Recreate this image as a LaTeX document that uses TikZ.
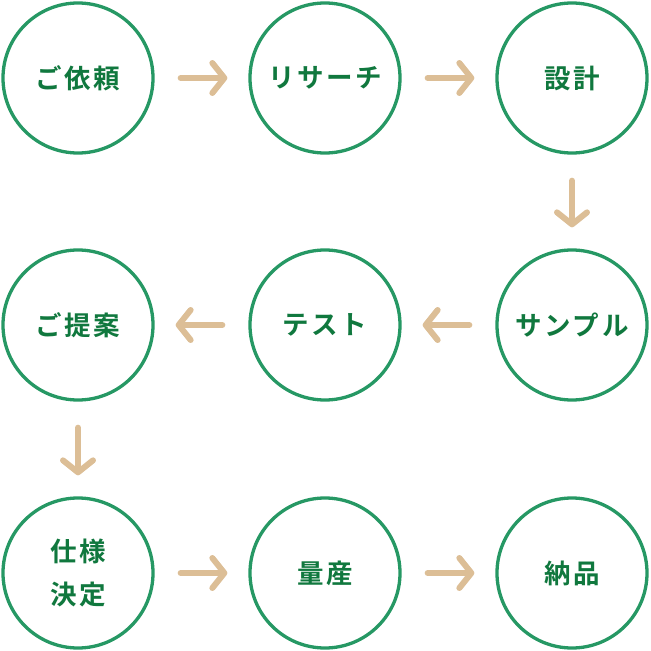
\documentclass[tikz,border=0pt]{standalone}
\usepackage{fontspec}
\setmainfont{Noto Sans CJK JP Bold}
\usepackage{xcolor}
\usetikzlibrary{arrows.meta}

\definecolor{ringgreen}{RGB}{38,152,100}
\definecolor{textgreen}{RGB}{16,120,62}
\definecolor{arrowtan}{RGB}{220,190,150}

\begin{document}
\begin{tikzpicture}[
  x=1pt,y=-1pt,
  every node/.style={font=\fontsize{26.5}{43}\selectfont\addfontfeatures{LetterSpace=10}},
  stage/.style={circle,draw=ringgreen,line width=3.3pt,minimum size=150pt,
                inner sep=0pt,fill=white,text=textgreen,align=center},
  flow/.style={arrowtan,line width=6pt,line cap=round,
               -{Straight Barb[length=12pt,width=30pt,round]},
               shorten <=26pt,shorten >=21pt}]

  \useasboundingbox (0,0) rectangle (651,651);

  % --- top row, left to right
  \node[stage] (order)    at ( 78, 78) {ご依頼};
  \node[stage] (research) at (325, 78) {リサーチ};
  \node[stage] (design)   at (572, 78) {設計};

  % --- middle row, right to left
  \node[stage] (sample)   at (572,325) {サンプル};
  \node[stage] (test)     at (325,325) {テスト};
  \node[stage] (proposal) at ( 78,325) {ご提案};

  % --- bottom row, left to right again
  \node[stage] (spec)     at ( 78,573) {仕様\\決定};
  \node[stage] (mass)     at (325,573) {量産};
  \node[stage] (delivery) at (572,573) {納品};

  % --- flow arrows
  \draw[flow] (order)    -- (research);
  \draw[flow] (research) -- (design);
  \draw[flow] (design)   -- (sample);
  \draw[flow] (sample)   -- (test);
  \draw[flow] (test)     -- (proposal);
  \draw[flow] (proposal) -- (spec);
  \draw[flow] (spec)     -- (mass);
  \draw[flow] (mass)     -- (delivery);
\end{tikzpicture}
\end{document}
